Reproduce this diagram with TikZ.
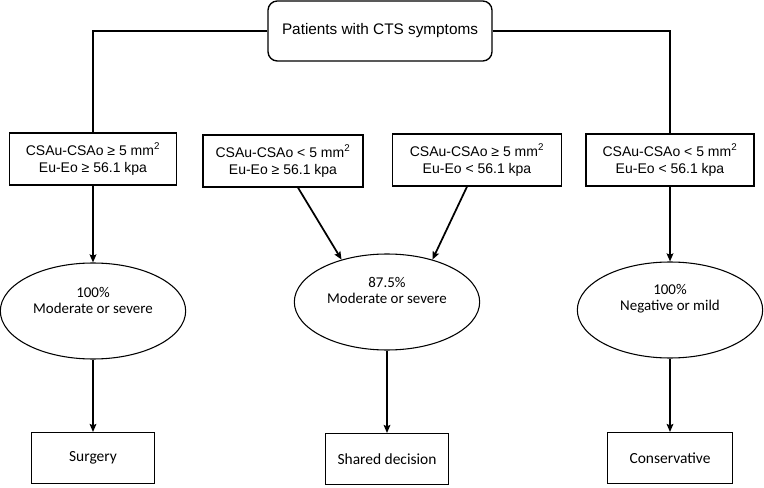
\documentclass[tikz,border=0pt]{standalone}
\usepackage{fontspec}
\setmainfont{Liberation Sans}
\newfontfamily\narrowfont{Carlito}
\usetikzlibrary{shapes.geometric, arrows.meta, positioning, calc}

\begin{document}
\begin{tikzpicture}[
  x=0.75pt, y=-0.75pt,
  topbox/.style={rectangle, rounded corners=7pt, draw=black, line width=1pt, minimum width=168pt, minimum height=45pt, font=\fontsize{11.5}{13}\selectfont},
  critbox/.style={rectangle, draw=black, line width=1pt, minimum width=#1, minimum height=39pt, align=center, font=\fontsize{10.5}{12.8}\selectfont},
  oval/.style={ellipse, draw=black, line width=0.8pt, minimum width=139pt, minimum height=72pt},
  ovaltext/.style={align=center, font=\narrowfont\fontsize{11.2}{12}\selectfont},
  endbox/.style={rectangle, draw=black, line width=1pt, minimum width=#1, minimum height=38pt, font=\narrowfont\fontsize{11.6}{13}\selectfont},
  link/.style={line width=1.3pt},
  arrow/.style={-{Stealth[length=6pt, width=5pt, inset=1pt]}, line width=1.3pt}
]
  \useasboundingbox (0,0) rectangle (764,488);

  % Patients
  \node[topbox] (patients) at (380,31) {Patients with CTS symptoms};

  % Criteria
  \node[critbox=125pt] (crit1) at (93,159) {CSAu-CSAo ≥ 5 mm\textsuperscript{2}\\Eu-Eo ≥ 56.1 kpa};
  \node[critbox=120pt] (crit2) at (283,161) {CSAu-CSAo < 5 mm\textsuperscript{2}\\Eu-Eo ≥ 56.1 kpa};
  \node[critbox=127pt] (crit3) at (477,160) {CSAu-CSAo ≥ 5 mm\textsuperscript{2}\\Eu-Eo < 56.1 kpa};
  \node[critbox=126pt] (crit4) at (670,160) {CSAu-CSAo < 5 mm\textsuperscript{2}\\Eu-Eo < 56.1 kpa};

  % Severity
  \node[oval] (sev1) at (93,311) {};
  \node[ovaltext] (sev1txt) at ($(sev1)+(0,-11)$) {100\%\\Moderate or severe};
  \node[oval] (sev2) at (387,302) {};
  \node[ovaltext] (sev2txt) at ($(sev2)+(0,-12)$) {87.5\%\\Moderate or severe};
  \node[oval] (sev3) at (670,310) {};
  \node[ovaltext] (sev3txt) at ($(sev3)+(0,-11)$) {100\%\\Negative or mild};

  % Treatment
  \node[endbox=92pt] (surgery) at (93,458) {Surgery};
  \node[endbox=92pt] (shared) at (387,459) {Shared decision};
  \node[endbox=94pt] (conserv) at (670,458) {Conservative};

  % Arrows
  \draw[link] (patients.west) -| (crit1.north);
  \draw[link] (patients.east) -| (crit4.north);
  \draw[arrow] (crit1) -- (sev1);
  \draw[arrow] ($(crit2.south)+(15,0)$) -- (sev2.137);
  \draw[arrow] ($(crit3.south)+(-10,0)$) -- (sev2.43);
  \draw[arrow] (crit4) -- (sev3);
  \draw[arrow] (sev1) -- (surgery);
  \draw[arrow] (sev2) -- (shared);
  \draw[arrow] (sev3) -- (conserv);
\end{tikzpicture}
\end{document}
